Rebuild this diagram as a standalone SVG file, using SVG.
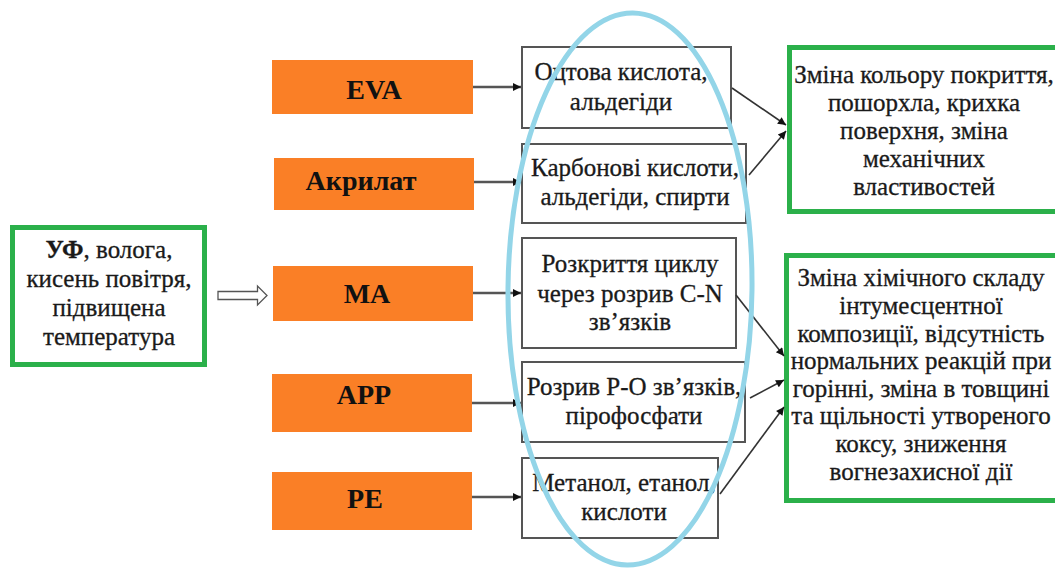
<svg xmlns="http://www.w3.org/2000/svg" width="1055" height="570" viewBox="0 0 1055 570">
  <style>
    text { font-family: 'Liberation Serif', 'Times New Roman', 'DejaVu Serif', serif; }
    .t { font-size: 25px; fill: #1a1a1a; stroke: #1a1a1a; stroke-width: 0.3; text-anchor: middle; }
    .lbl { font-size: 28px; font-weight: bold; fill: #111; text-anchor: middle; }
    .green { fill: #fff; stroke: #2bb04a; stroke-width: 5; }
    .orange { fill: #fa7f26; stroke: none; }
    .mid { fill: #fff; stroke: #555; stroke-width: 2; }
    .con { fill: none; stroke: #333; stroke-width: 1.6; marker-end: url(#ah); }
    .con2 { fill: none; stroke: #555; stroke-width: 2.4; marker-end: url(#ah); }
  </style>
  <defs>
    <marker id="ah" viewBox="0 0 10 10" refX="10" refY="5" markerWidth="10" markerHeight="8" markerUnits="userSpaceOnUse" orient="auto">
      <path d="M0,0 L10,5 L0,10 z" fill="#111"/>
    </marker>
  </defs>
  <rect width="1055" height="570" fill="#fff"/>

  <!-- factors -->
  <g id="factors">
    <rect class="green" x="12.5" y="227.5" width="192" height="137"/>
    <text class="t" x="109" y="258"><tspan font-weight="bold">УФ</tspan>, волога,</text>
    <text class="t" x="109" y="287">кисень повітря,</text>
    <text class="t" x="109" y="316">підвищена</text>
    <text class="t" x="109" y="345">температура</text>
  </g>

  <!-- components -->
  <g id="eva">
    <rect class="orange" x="272" y="60" width="201" height="54"/>
    <text class="lbl" x="374" y="99">EVA</text>
  </g>
  <g id="acrylate">
    <rect class="orange" x="274" y="158" width="200" height="52"/>
    <text class="lbl" x="361" y="190">Акрилат</text>
  </g>
  <g id="ma">
    <rect class="orange" x="273" y="266" width="200" height="55"/>
    <text class="lbl" x="367" y="303">MA</text>
  </g>
  <g id="app">
    <rect class="orange" x="272" y="374" width="200" height="58"/>
    <text class="lbl" x="364" y="404">APP</text>
  </g>
  <g id="pe">
    <rect class="orange" x="272" y="472" width="200" height="58"/>
    <text class="lbl" x="365" y="508">PE</text>
  </g>

  <!-- degradation products -->
  <g id="prod-eva">
    <rect class="mid" x="522" y="47" width="209" height="81"/>
    <text class="t" x="621" y="80">Оцтова кислота,</text>
    <text class="t" x="621" y="110">альдегіди</text>
  </g>
  <g id="prod-acrylate">
    <rect class="mid" x="522" y="144" width="224" height="79"/>
    <text class="t" x="635" y="176">Карбонові кислоти,</text>
    <text class="t" x="635" y="205">альдегіди, спирти</text>
  </g>
  <g id="prod-ma">
    <rect class="mid" x="522" y="238" width="214" height="110"/>
    <text class="t" x="630" y="272">Розкриття циклу</text>
    <text class="t" x="630" y="302">через розрив C-N</text>
    <text class="t" x="630" y="330">зв’язків</text>
  </g>
  <g id="prod-app">
    <rect class="mid" x="522" y="362" width="223" height="80"/>
    <text class="t" x="634" y="395">Розрив P-O зв’язків,</text>
    <text class="t" x="634" y="424">пірофосфати</text>
  </g>
  <g id="prod-pe">
    <rect class="mid" x="522" y="458" width="196" height="80"/>
    <text class="t" x="624" y="491">Метанол, етанол,</text>
    <text class="t" x="624" y="520">кислоти</text>
  </g>

  <!-- effects -->
  <g id="effect-surface">
    <rect class="green" x="789.5" y="47.5" width="275" height="164"/>
    <text class="t" x="924" y="83">Зміна кольору покриття,</text>
    <text class="t" x="924" y="111">пошорхла, крихка</text>
    <text class="t" x="924" y="139">поверхня, зміна</text>
    <text class="t" x="924" y="167">механічних</text>
    <text class="t" x="924" y="195">властивостей</text>
  </g>
  <g id="effect-chemistry">
    <rect class="green" x="786.5" y="255.5" width="280" height="245"/>
    <text class="t" x="921" y="286">Зміна хімічного складу</text>
    <text class="t" x="921" y="314">інтумесцентної</text>
    <text class="t" x="921" y="342">композиції, відсутність</text>
    <text class="t" x="921" y="369">нормальних реакцій при</text>
    <text class="t" x="921" y="397">горінні, зміна в товщині</text>
    <text class="t" x="921" y="424">та щільності утвореного</text>
    <text class="t" x="921" y="452">коксу, зниження</text>
    <text class="t" x="921" y="480">вогнезахисної дії</text>
  </g>

  <!-- connectors -->
  <g id="connectors">
    <path d="M218,291.5 H257.5 V286 L267,295.5 L257.5,305 V299.5 H218 Z" fill="#fff" stroke="#555" stroke-width="1.3"/>
    <path class="con2" d="M473,87 H521"/>
    <path class="con2" d="M474,182 H521"/>
    <path class="con2" d="M473,293 H521"/>
    <path class="con2" d="M472,403 H521"/>
    <path class="con2" d="M472,497 H521"/>
    <path class="con" d="M732,88 L786,125"/>
    <path class="con" d="M749,175 L786,131"/>
    <path class="con" d="M736,295 L784,356"/>
    <path class="con" d="M750,398 L784,380"/>
    <path class="con" d="M720,494 L784,407"/>
  </g>

  <!-- highlight around the degradation products -->
  <g id="highlight">
    <ellipse cx="630" cy="289" rx="122" ry="276" fill="none" stroke="#93d5e8" stroke-width="5" transform="rotate(0.6 630 289)"/>
  </g>
</svg>
